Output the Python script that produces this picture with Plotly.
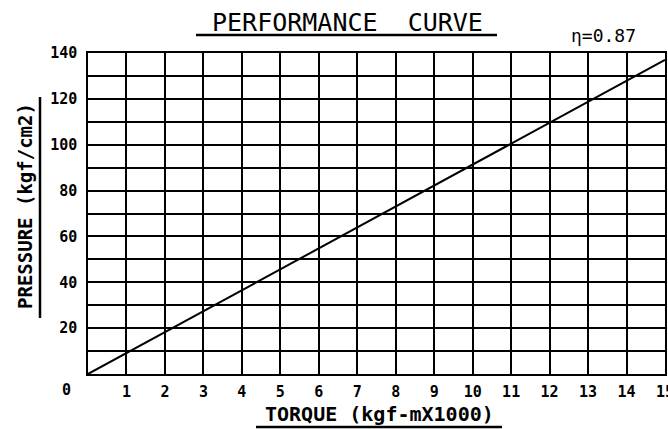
import plotly.graph_objects as go

# Data
torque = [0, 15]          # kgf-m x1000
pressure = [0, 137]       # kgf/cm2
x_ticks = list(range(1, 16))
y_ticks = list(range(20, 141, 20))
title_text = "PERFORMANCE  CURVE"
eta_text = "η=0.87"
x_title = "TORQUE (kgf-mX1000)"
y_title = "PRESSURE (kgf/cm2)"

W, H = 668, 429
L, R, T, B = 88, 3, 53, 55
PW, PH = W - L - R, H - T - B

def px(x):
    return (x - L) / PW

def py(y):
    return (H - B - y) / PH

FONT = "DejaVu Sans Mono"

fig = go.Figure()
fig.add_trace(go.Scatter(x=torque, y=pressure, mode="lines",
                         line=dict(color="black", width=2), showlegend=False,
                         hoverinfo="skip", cliponaxis=False))

fig.update_layout(
    width=W, height=H,
    margin=dict(l=L, r=R, t=T, b=B, autoexpand=False),
    paper_bgcolor="white", plot_bgcolor="white",
    showlegend=False,
    xaxis=dict(range=[0, 15], tickvals=x_ticks, ticktext=[str(v) for v in x_ticks],
               showgrid=True, gridcolor="black", gridwidth=1.5,
               showline=True, linecolor="black", linewidth=1.5, mirror=True,
               zeroline=False, ticks="", ticklabelstandoff=3,
               ticklabeloverflow="allow", automargin=False,
               tickfont=dict(family=FONT, size=15, color="black", weight="bold")),
    yaxis=dict(range=[0, 140], tickvals=y_ticks, ticktext=[str(v) for v in y_ticks],
               showgrid=True, gridcolor="black", gridwidth=1.5,
               minor=dict(dtick=10, showgrid=True, gridcolor="black", gridwidth=1.5),
               showline=True, linecolor="black", linewidth=1.5, mirror=True,
               zeroline=False, ticks="", ticklabelstandoff=6,
               ticklabeloverflow="allow", automargin=False,
               tickfont=dict(family=FONT, size=15, color="black", weight="bold")),
)

def ann(text, x, y, size, bold=False, angle=0):
    return dict(text=text, x=px(x), y=py(y), xref="paper", yref="paper",
                xanchor="center", yanchor="middle", showarrow=False,
                textangle=angle,
                font=dict(family=FONT, size=size, color="black",
                          weight="bold" if bold else "normal"))

annotations = [
    ann(title_text, 347, 22, 25),
    ann(eta_text, 603, 35, 18),
    ann(x_title, 379, 414, 20, bold=True),
    ann(y_title, 25, 206, 19, bold=True, angle=-90),
    ann("0", 66, 390, 15, bold=True),
]
fig.update_layout(annotations=annotations)

shapes = [
    dict(type="line", xref="paper", yref="paper", x0=px(196), x1=px(497),
         y0=py(35), y1=py(35), line=dict(color="black", width=2.5)),
    dict(type="line", xref="paper", yref="paper", x0=px(256), x1=px(502),
         y0=py(427), y1=py(427), line=dict(color="black", width=2.5)),
    dict(type="line", xref="paper", yref="paper", x0=px(40), x1=px(40),
         y0=py(97), y1=py(318), line=dict(color="black", width=2.5)),
]
fig.update_layout(shapes=shapes)

fig.write_html("out.html", config={"displayModeBar": False},
               post_script="document.body.style.margin='0';document.body.style.overflow='hidden';")
